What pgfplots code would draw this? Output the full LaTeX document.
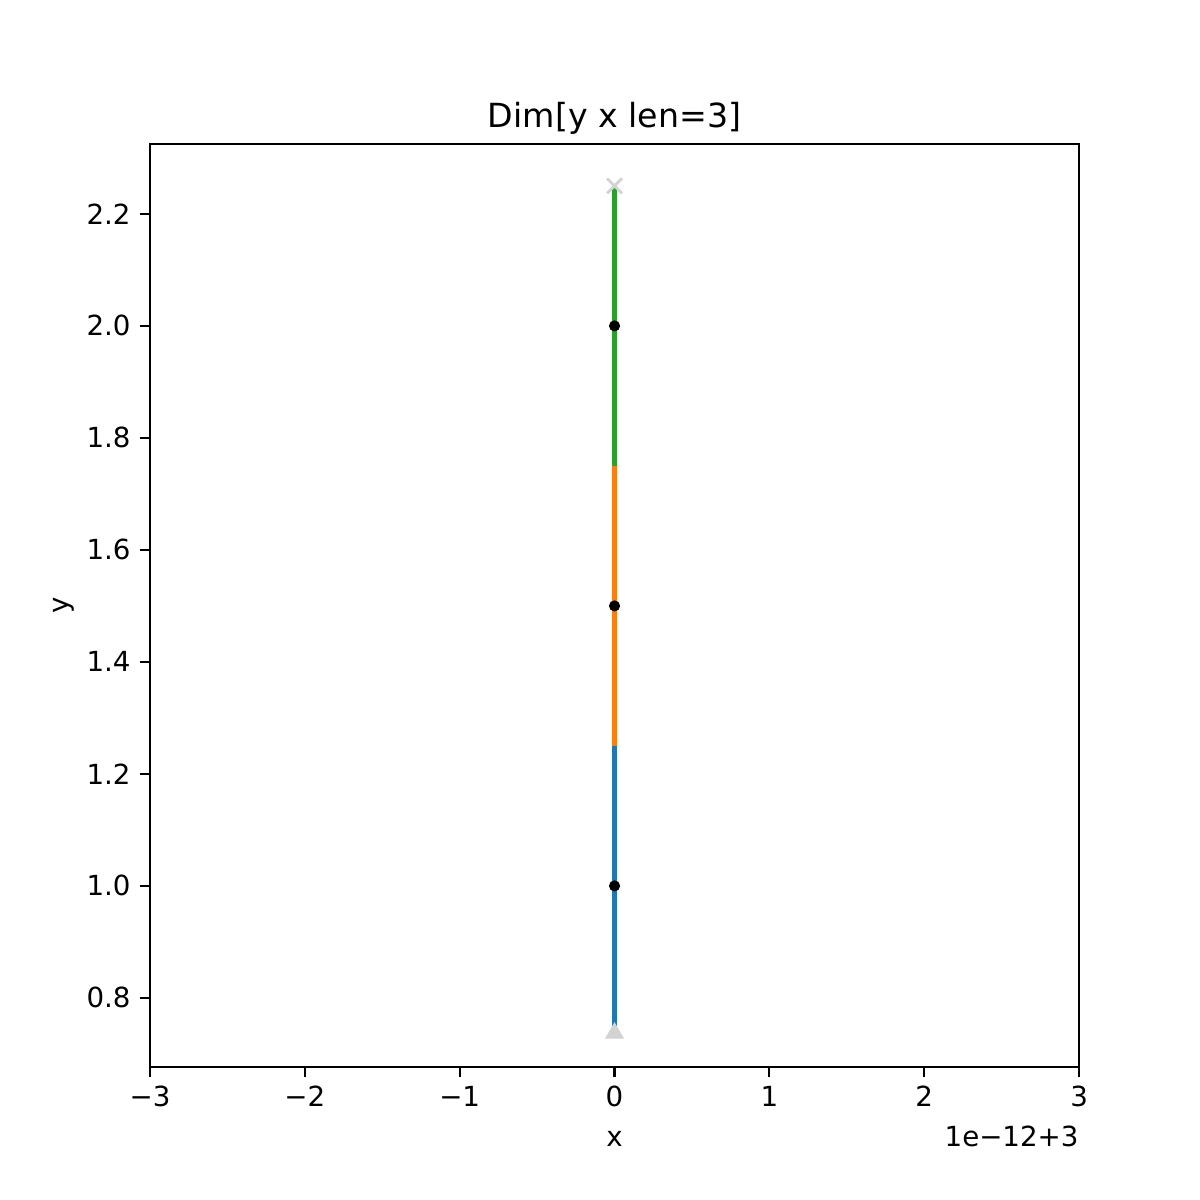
\documentclass[border=0pt]{standalone}
\usepackage{pgfplots}
\pgfplotsset{compat=1.18}
\usepackage{fontspec}
\setmainfont{DejaVu Sans}
\definecolor{tabblue}{HTML}{1F77B4}
\definecolor{taborange}{HTML}{FF7F0E}
\definecolor{tabgreen}{HTML}{2CA02C}
\definecolor{mgray}{HTML}{D3D3D3}
\begin{document}
\begin{tikzpicture}
\begin{axis}[
  width=335.7pt, height=333.5pt, scale only axis,
  xmin=-3, xmax=3, ymin=0.6768, ymax=2.325,
  axis line style={line width=0.8pt},
  tick style={line width=0.8pt, black},
  tick align=outside, major tick length=3.5pt,
  xtick={-3,-2,-1,0,1,2,3},
  xticklabels={−3,−2,−1,0,1,2,3},
  ytick={0.8,1.0,1.2,1.4,1.6,1.8,2.0,2.2},
  yticklabels={0.8,1.0,1.2,1.4,1.6,1.8,2.0,2.2},
  xtick pos=bottom, ytick pos=left,
  ticklabel style={font=\fontsize{10}{12}\selectfont},
  xlabel={x}, ylabel={y},
  xlabel style={font=\fontsize{10}{12}\selectfont, yshift=-2pt},
  ylabel style={font=\fontsize{10}{12}\selectfont, yshift=-2.5pt},
  title={Dim[y x len=3]},
  title style={font=\fontsize{12}{14}\selectfont, yshift=-6pt},
  clip=false,
]
\addplot[tabblue, line width=1.5pt] coordinates {(0,0.75) (0,1.25)};
\addplot[taborange, line width=1.5pt] coordinates {(0,1.25) (0,1.75)};
\addplot[tabgreen, line width=1.5pt] coordinates {(0,1.75) (0,2.25)};
\addplot[only marks, mark=*, mark size=1.8pt, black] coordinates {(0,1.0) (0,1.5) (0,2.0)};
\addplot[only marks, mark=x, mark size=3.8pt, mgray, line width=1pt] coordinates {(0,2.25)};
\addplot[only marks, mark=triangle*, mark size=3.6pt, mgray] coordinates {(0,0.737)};
\node[anchor=north east, font=\fontsize{10}{12}\selectfont, inner sep=0pt] at ([yshift=-21pt]rel axis cs:1,0) {1e−12+3};
\end{axis}
\pgfresetboundingbox
\path ([shift={(-54.2pt,-48.05pt)}]current axis.south west) rectangle ([shift={(43.7pt,52.0pt)}]current axis.north east);
\end{tikzpicture}
\end{document}
